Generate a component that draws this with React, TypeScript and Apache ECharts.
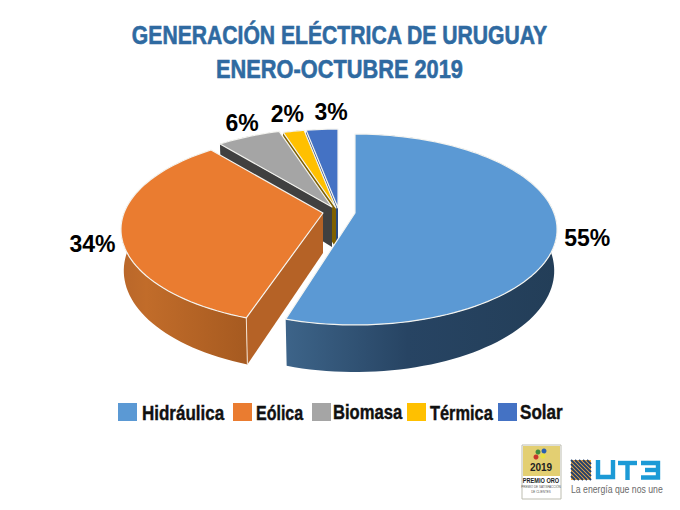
import React, { useEffect, useRef } from "react";
import * as echarts from "echarts";

const categories = ["Hidráulica", "Eólica", "Biomasa", "Térmica", "Solar"];
const values = [55, 34, 6, 2, 3];
const titleLines = ["GENERACIÓN ELÉCTRICA DE URUGUAY", "ENERO-OCTUBRE 2019"];

const topColors = ["#5b99d4", "#ea7c30", "#a5a5a5", "#ffc000", "#4472c4"];
const apexes = [[355, 213], [323, 213], [332, 207], [336, 208], [338, 208]];
const labelNudges = [[-1, 9], [3, 11], [4, -5], [-1, -8], [11, -8]];
const startTrim = [0, 0.8, 0, 0, 0];
const endTrim = [1.1, 0, 0, 0, 0];
const drawOrder = [4, 3, 2, 1, 0];
const sideColors: any[] = ["#264362", "#b56226", "#404040", "#7f6000", "#2a4a80"];
const legendSwatchX = [118, 233, 312, 407, 498];
const legendTextX = [142, 256, 333, 430, 520];
const legendTextW = [0.85, 0.8, 0.83, 0.82, 0.855];
const legendTextY = [413, 413, 412, 413, 412];

const A = 199, B = 92.6, K = -0.173;
const FONT = '"Liberation Sans", Arial, sans-serif';
const total = values.reduce((s, v) => s + v, 0);

const vec = (deg: number) => {
  const r = (deg * Math.PI) / 180;
  return [Math.sin(r), -Math.cos(r)];
};
const top = (apex: number[], deg: number, f = 1) => {
  const [X, Y] = vec(deg);
  const d = 1 + K * Y * f;
  return [apex[0] + (A * X * f) / d, apex[1] + (B * Y * f) / d];
};
const bottom = (apex: number[], deg: number, f = 1) => {
  const [X, Y] = vec(deg);
  const p = top(apex, deg, f);
  return [apex[0] + (p[0] - apex[0]) * 0.986, p[1] + 40 + 7 * Y * f];
};
const arc = (fn: any, apex: number[], a0: number, a1: number) => {
  const n = Math.max(6, Math.ceil(Math.abs(a1 - a0) / 2));
  const out: number[][] = [];
  for (let i = 0; i <= n; i++) out.push(fn(apex, a0 + ((a1 - a0) * i) / n));
  return out;
};
const hGrad = (stops: [number, string][]) =>
  new echarts.graphic.LinearGradient(0, 0, 1, 0, stops.map(([offset, color]) => ({ offset, color })));

function makeRender(idx: number) {
  return (_params: any, api: any) => {
    const v = api.value(0);
    const before = values.slice(0, idx).reduce((s, x) => s + x, 0);
    const a0 = (before / total) * 360 + startTrim[idx];
    const a1 = ((before + v) / total) * 360 - endTrim[idx];
    const apex = apexes[idx];
    const topRim = arc(top, apex, a0, a1);
    const botRim = arc(bottom, apex, a0, a1);
    const apexB = [apex[0], apex[1] + 40];
    const wallFill =
      idx === 0
        ? hGrad([[0, "#3d6489"], [0.45, "#274463"], [1, "#233e58"]])
        : idx === 1
        ? hGrad([[0, "#b9672a"], [0.2, "#c16c2a"], [1, "#a65a20"]])
        : sideColors[idx];
    const mid = (a0 + a1) / 2;
    const lp = top(apex, mid, 1.15);
    const n = labelNudges[idx];
    const children: any[] = [
      { type: "polygon", shape: { points: [...topRim, ...botRim.slice().reverse()] }, style: { fill: wallFill } },
    ];
    if (idx !== 0) {
      children.push({
        type: "polygon",
        shape: { points: [apex, topRim[0], botRim[0], apexB] },
        style: { fill: sideColors[idx] },
      });
    }
    children.push({
      type: "polygon",
      shape: { points: [apex, ...topRim] },
      style: { fill: topColors[idx], stroke: "#f4f4f0", lineWidth: 1.2, lineJoin: "round" },
    });
    if (idx === 1) {
      children.push({
        type: "line",
        shape: { x1: topRim[0][0], y1: topRim[0][1], x2: botRim[0][0], y2: botRim[0][1] },
        style: { stroke: "#f4e4d4", lineWidth: 1 },
      });
    }
    children.push({
      type: "text",
      x: lp[0] + n[0],
      y: lp[1] + n[1],
      style: {
        text: `${v}%`,
        fill: "#000",
        font: `bold 23px ${FONT}`,
        align: "center",
        verticalAlign: "middle",
      },
    });
    return { type: "group", children };
  };
}

const stripes = () => {
  const out: any[] = [];
  const x0 = 571, y0 = 460, s = 20;
  for (let i = -16; i <= 16; i += 4) {
    const p1 = i < 0 ? [x0, y0 - i] : [x0 + i, y0];
    const p2 = i < 0 ? [x0 + s + i, y0 + s] : [x0 + s, y0 + s - i];
    out.push({ type: "line", shape: { x1: p1[0], y1: p1[1], x2: p2[0], y2: p2[1] }, style: { stroke: "#1f3f6e", lineWidth: 1.8 } });
  }
  return out;
};

const uteBlue = "#1c9ad6";
const logoLine = (points: number[][]) => ({
  type: "polyline",
  shape: { points },
  style: { stroke: uteBlue, lineWidth: 4.4, fill: "none" },
});

const legendItems = () =>
  categories.flatMap((name, i) => [
    { type: "rect", shape: { x: legendSwatchX[i], y: 403, width: 19, height: 18 }, style: { fill: topColors[i] } },
    {
      type: "text",
      x: legendTextX[i],
      y: legendTextY[i],
      scaleX: legendTextW[i],
      style: { text: name, fill: "#111", stroke: "#111", lineWidth: 0.4, font: `bold 20px ${FONT}`, align: "left", verticalAlign: "middle" },
    },
  ]);

export default function App() {
  const ref = useRef<HTMLDivElement>(null);
  useEffect(() => {
    const chart = echarts.init(ref.current!, undefined, { renderer: "svg" });
    chart.setOption({
      animation: false,
      backgroundColor: "#fff",
      series: drawOrder.map((i) => ({
        type: "custom",
        name: categories[i],
        coordinateSystem: "none",
        data: [[values[i]]],
        itemStyle: { color: topColors[i] },
        renderItem: makeRender(i),
        silent: true,
      })),
      graphic: [
        {
          type: "text", x: 339.5, y: 35, scaleX: 0.813,
          style: { text: titleLines[0], fill: "#2f6aa1", stroke: "#2f6aa1", lineWidth: 0.6, font: `bold 26px ${FONT}`, align: "center", verticalAlign: "middle" },
        },
        {
          type: "text", x: 339.5, y: 69, scaleX: 0.838,
          style: { text: titleLines[1], fill: "#2f6aa1", stroke: "#2f6aa1", lineWidth: 0.6, font: `bold 26px ${FONT}`, align: "center", verticalAlign: "middle" },
        },
        ...legendItems(),
        { type: "rect", shape: { x: 522, y: 445, width: 39, height: 54 }, style: { fill: "#fff", stroke: "#bdbdb0", lineWidth: 1 } },
        { type: "rect", shape: { x: 523, y: 446, width: 37, height: 30 }, style: { fill: "#e3cf72" } },
        { type: "circle", shape: { cx: 538, cy: 452, r: 2.5 }, style: { fill: "#3d8a3d" } },
        { type: "circle", shape: { cx: 544, cy: 451, r: 2.5 }, style: { fill: "#2a5fb0" } },
        { type: "circle", shape: { cx: 536, cy: 457, r: 2.5 }, style: { fill: "#c8342c" } },
        { type: "circle", shape: { cx: 543, cy: 456, r: 2.5 }, style: { fill: "#e8e040" } },
        { type: "text", x: 541, y: 467, style: { text: "2019", fill: "#222", font: `bold 10px ${FONT}`, align: "center", verticalAlign: "middle" } },
        { type: "text", x: 541, y: 480, scaleX: 0.8, style: { text: "PREMIO ORO", fill: "#222", font: `bold 7px ${FONT}`, align: "center", verticalAlign: "middle" } },
        { type: "text", x: 541, y: 487, style: { text: "PREMIO DE SATISFACCIÓN", fill: "#555", font: `3px ${FONT}`, align: "center", verticalAlign: "middle" } },
        { type: "text", x: 541, y: 492, style: { text: "DE CLIENTES", fill: "#555", font: `3px ${FONT}`, align: "center", verticalAlign: "middle" } },
        { type: "rect", shape: { x: 571, y: 460, width: 20, height: 20 }, style: { fill: "#f0a63c" } },
        ...stripes(),
        logoLine([[598, 460], [598, 477], [613, 477], [613, 460]]),
        logoLine([[618, 463], [637, 463]]),
        logoLine([[627.5, 463], [627.5, 480]]),
        logoLine([[641, 463], [658, 463], [658, 477.5], [641, 477.5]]),
        logoLine([[645, 470], [658, 470]]),
        { type: "text", x: 571, y: 490, scaleX: 0.87, style: { text: "La energía que nos une", fill: "#6a6a6a", font: `10px ${FONT}`, align: "left", verticalAlign: "middle" } },
      ],
    });
    return () => chart.dispose();
  }, []);
  return <div ref={ref} style={{ position: "fixed", left: 0, top: 0, width: 680, height: 510 }} />;
}
